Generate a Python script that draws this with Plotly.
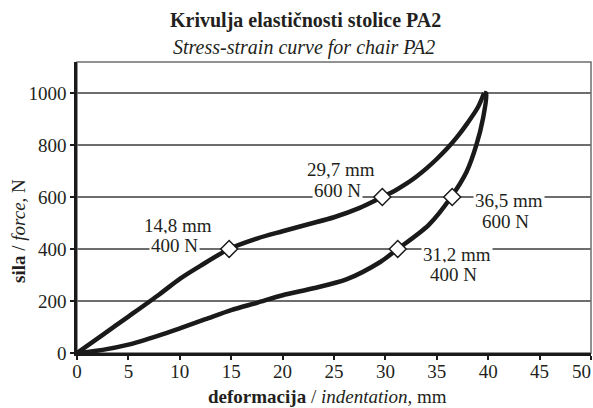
import plotly.graph_objects as go

# Loading curve (upper branch)
load_x = [0, 2.5, 5, 8, 10, 12, 14.8, 17.5, 20, 22.5, 25, 27.5, 29.7, 31, 32, 33, 34, 35, 36, 37, 38, 39, 39.6]
load_y = [0, 70, 140, 225, 285, 335, 400, 440, 468, 495, 522, 558, 600, 626, 650, 678, 710, 746, 786, 832, 885, 945, 1000]

# Unloading curve (lower branch)
unload_x = [39.6, 39.8, 39.5, 38.85, 37.9, 36.4, 34.2, 31.2, 29.5, 26.2, 23, 20, 17.5, 15, 12.5, 10, 8, 5, 2.5, 0]
unload_y = [1000, 998, 903, 800, 697, 600, 492, 400, 350, 283, 249, 222, 193, 165, 130, 95, 68, 32, 12, 0]

# Marked points
pts_x = [14.8, 29.7, 36.5, 31.2]
pts_y = [400, 600, 600, 400]

x_ticks = [0, 5, 10, 15, 20, 25, 30, 35, 40, 45, 50]
y_ticks = [0, 200, 400, 600, 800, 1000]

FONT = "Liberation Serif"
TXT = "#231f20"
FS = 19

fig = go.Figure()
fig.add_trace(go.Scatter(x=load_x, y=load_y, mode="lines",
                         line=dict(color="#1a1a1a", width=4.5, shape="spline", smoothing=0.8),
                         cliponaxis=False, hoverinfo="skip"))
fig.add_trace(go.Scatter(x=unload_x, y=unload_y, mode="lines",
                         line=dict(color="#1a1a1a", width=4.5, shape="spline", smoothing=0.8),
                         cliponaxis=False, hoverinfo="skip"))
fig.add_trace(go.Scatter(x=pts_x, y=pts_y, mode="markers",
                         marker=dict(symbol="diamond", size=13, color="white",
                                     line=dict(color="#1a1a1a", width=1.5)),
                         cliponaxis=False, hoverinfo="skip"))

# label line positions (data coords): (mm-line x, mm-line y, N-line x, N-line y)
label_pos = [(9.82, 490, 9.53, 413), (25.68, 706, 25.34, 626),
             (42.02, 588, 41.73, 505), (36.96, 377, 36.58, 300)]
for (px, py), (mx, my, nx, ny) in zip(zip(pts_x, pts_y), label_pos):
    fig.add_annotation(x=mx, y=my, xref="x", yref="y",
                       text=f"{px:.1f}".replace(".", ",") + " mm", showarrow=False,
                       font=dict(family=FONT, size=FS, color=TXT),
                       bgcolor="white", borderpad=1, xanchor="center", yanchor="middle")
    fig.add_annotation(x=nx, y=ny, xref="x", yref="y",
                       text=f"{py} N", showarrow=False,
                       font=dict(family=FONT, size=FS, color=TXT),
                       bgcolor="white", borderpad=1, xanchor="center", yanchor="middle")

# Titles
fig.add_annotation(x=0.4436, y=1.1443, xref="paper", yref="paper",
                   text="<b>Krivulja elastičnosti stolice PA2</b>", showarrow=False,
                   font=dict(family=FONT, size=20, color=TXT), xanchor="center", yanchor="middle")
fig.add_annotation(x=0.4416, y=1.0515, xref="paper", yref="paper",
                   text="<i>Stress-strain curve for chair PA2</i>", showarrow=False,
                   font=dict(family=FONT, size=20, color=TXT), xanchor="center", yanchor="middle")
fig.add_annotation(x=0.4883, y=-0.1512, xref="paper", yref="paper",
                   text="<b>deformacija</b> / <i>indentation,</i> mm", showarrow=False,
                   font=dict(family=FONT, size=FS, color=TXT), xanchor="center", yanchor="middle")
fig.add_annotation(x=-0.1148, y=0.4192, xref="paper", yref="paper", textangle=-90,
                   text="<b>sila</b> / <i>force,</i> N", showarrow=False,
                   font=dict(family=FONT, size=FS, color=TXT), xanchor="center", yanchor="middle")

# last x tick label, nudged inside the page
fig.add_annotation(x=0.982, y=-0.0619, xref="paper", yref="paper",
                   text=str(x_ticks[-1]), showarrow=False,
                   font=dict(family=FONT, size=FS, color=TXT), xanchor="center", yanchor="middle")

# gray frame (top/right)
fig.add_shape(type="rect", xref="paper", yref="paper", x0=0, y0=0, x1=1, y1=1,
              line=dict(color="#6d6d6d", width=1.5), layer="below")

fig.update_xaxes(range=[0, 50], tickvals=x_ticks,
                 ticktext=[str(v) for v in x_ticks[:-1]] + [""],
                 showgrid=False, zeroline=False,
                 showline=True, linecolor="#1a1a1a", linewidth=2.5,
                 ticks="outside", ticklen=4, tickcolor="#1a1a1a", tickwidth=1.5,
                 ticklabelstandoff=-5,
                 tickfont=dict(family=FONT, size=FS, color=TXT))
fig.update_yaxes(range=[0, 1119], tickvals=y_ticks, showgrid=True, gridcolor="#6d6d6d",
                 gridwidth=1.5, zeroline=False,
                 showline=True, linecolor="#1a1a1a", linewidth=2.5,
                 ticks="outside", ticklen=4, tickcolor="#1a1a1a", tickwidth=1.5,
                 tickfont=dict(family=FONT, size=FS, color=TXT))

fig.update_layout(width=593, height=408, margin=dict(l=77, r=2, t=62, b=55),
                  paper_bgcolor="white", plot_bgcolor="white", showlegend=False,
                  font=dict(family=FONT, color=TXT))

fig.write_html("out.html", config={"displayModeBar": False},
               post_script="document.body.style.margin='0';document.body.style.padding='0';")
